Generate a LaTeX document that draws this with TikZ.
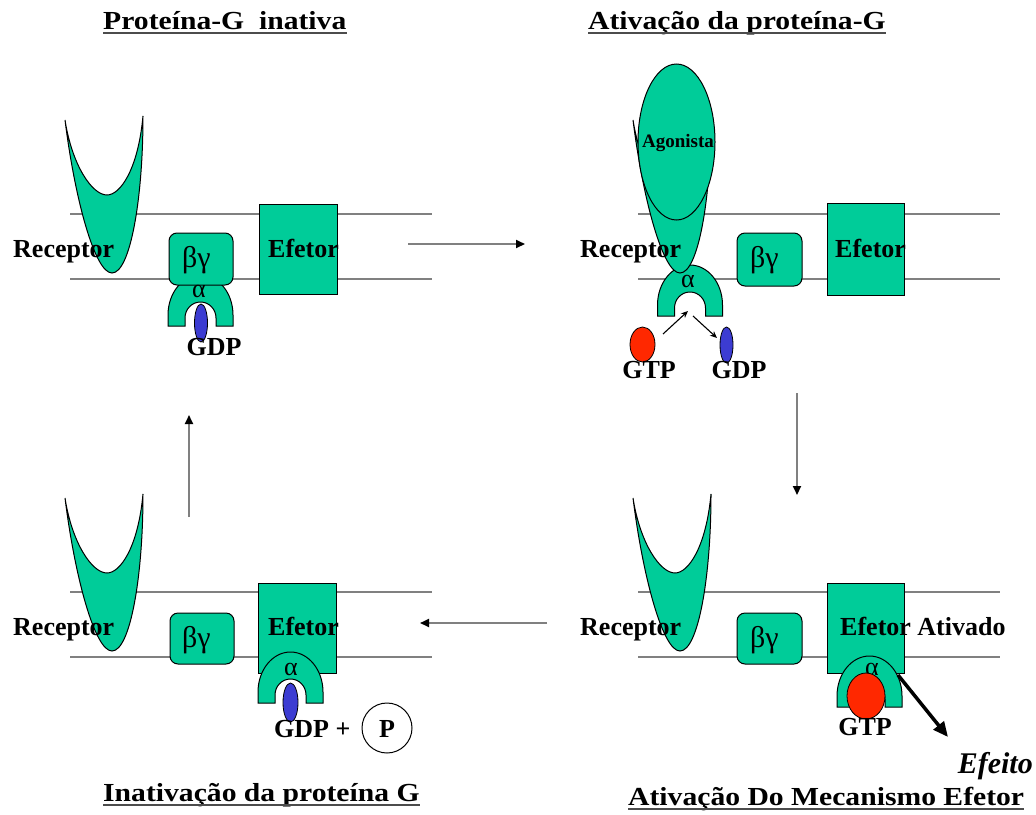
\documentclass[tikz,border=0pt]{standalone}
\usepackage{fontspec}
\setmainfont{Liberation Serif}
\newfontfamily\headfont[FakeStretch=1.14]{Liberation Serif}
\usetikzlibrary{arrows.meta,shapes.geometric}

\definecolor{prot}{RGB}{0,204,153}
\definecolor{gtpred}{RGB}{255,40,0}
\definecolor{gdpblue}{RGB}{60,60,210}
\definecolor{memgray}{RGB}{128,128,128}

\tikzset{
  protein/.style={fill=prot, draw=black, line width=1pt},
  memline/.style={draw=memgray, line width=2.5pt},
  bgbox/.style={protein, rectangle, rounded corners=8pt, minimum width=64pt, minimum height=52pt, inner sep=0pt},
  efbox/.style={protein, rectangle, minimum width=78pt, minimum height=90pt, inner sep=0pt},
  lbl/.style={inner sep=0pt, anchor=base west, font=\fontsize{26}{30}\selectfont\bfseries},
  clbl/.style={lbl, anchor=base},
  greek/.style={inner sep=0pt, anchor=base west, font=\fontsize{30}{32}\selectfont},
  alpha/.style={inner sep=0pt, anchor=base, font=\fontsize{26}{30}\selectfont},
  head/.style={inner sep=0pt, anchor=base west, font=\fontsize{26}{30}\selectfont\headfont\bfseries},
  uline/.style={draw=black!70, line width=1.6pt},
  gtp/.style={ellipse, fill=gtpred, draw=black, line width=0.8pt, inner sep=0pt},
  gdp/.style={ellipse, fill=gdpblue, draw=black, line width=0.8pt, inner sep=0pt},
  flow/.style={draw=memgray, line width=2pt, -{Triangle[length=9pt,width=8pt,black]}},
  swap/.style={draw=black, line width=1.1pt, -{Stealth[length=7pt,width=6pt]}},
  effect/.style={draw=black, line width=3.5pt, -{Triangle[length=15pt,width=13pt]}},
  receptor/.pic={
    \path[protein] (0,4) .. controls (10,84) and (30,157) .. (47,157)
      .. controls (65,157) and (78,84) .. (78,0)
      .. controls (73,54) and (55,79) .. (42,79)
      .. controls (27,79) and (7,49) .. (0,4) -- cycle;
  },
  galpha/.pic={
    \path[protein] (-32.5,0) -- (-32.5,-11)
      arc[start angle=180, end angle=360, x radius=32.5, y radius=40]
      -- (32.5,0) -- (15.5,0) -- (15.5,-8)
      arc[start angle=360, end angle=180, x radius=15.5, y radius=16]
      -- (-15.5,0) -- cycle;
  }
}

\begin{document}
\begin{tikzpicture}[x=1pt,y=-1pt]
\useasboundingbox (0,0) rectangle (1036,814);

% ---------- titles ----------
\node[head] (tTL) at (103,29) {Proteína-G~~inativa};
\node[head] (tTR) at (588,29) {Ativação da proteína-G};
\node[head] (tBL) at (103,801) {Inativação da proteína G};
\node[head] (tBR) at (628,805) {Ativação Do Mecanismo Efetor};
\foreach \t in {tTL,tTR,tBL,tBR}
  \draw[uline] ([yshift=-4pt]\t.base west) -- ([yshift=-4pt]\t.base east);

% ---------- inactive G protein (top left) ----------
\draw[memline] (70,214) -- (432,214);
\draw[memline] (70,279) -- (432,279);
\pic (recTL) at (65,116) {receptor};
\node[efbox] (efTL) at (298,249) {};
\pic (alTL) at (200.5,326) {galpha};
\node[bgbox] (bgTL) at (201,259) {};
\node[gdp, minimum width=13pt, minimum height=38pt] (gdpTL) at (201,323) {};
\node[lbl] (rxTL) at (13,257) {Receptor};
\node[lbl] (eftTL) at (268,257) {Efetor};
\node[greek] (bgtTL) at (182,267) {βγ};
\node[alpha] (atTL) at (199,297) {α};
\node[clbl] (gdptTL) at (214,355) {GDP};

% ---------- activation (top right) ----------
\draw[memline] (638,214) -- (1000,214);
\draw[memline] (638,279) -- (1000,279);
\pic (alTR) at (690,316) {galpha};
\pic (recTR) at (633,116) {receptor};
\node[protein, ellipse, minimum width=77pt, minimum height=156pt, inner sep=0pt] (ago) at (676.5,142) {};
\node[inner sep=0pt, anchor=base, font=\fontsize{19}{22}\selectfont\bfseries] (agot) at (678,147) {Agonista};
\node[bgbox, minimum width=65pt, minimum height=53pt] (bgTR) at (769.5,259.5) {};
\node[efbox, minimum width=77pt, minimum height=92pt] (efTR) at (865.5,249) {};
\node[lbl] (rxTR) at (580,257) {Receptor};
\node[lbl] (eftTR) at (835,257) {Efetor};
\node[greek] (bgtTR) at (750,267) {βγ};
\node[alpha] (atTR) at (688,287) {α};
\node[gtp, minimum width=25pt, minimum height=35pt] (gtpTR) at (642.5,344.5) {};
\node[gdp, minimum width=13pt, minimum height=36pt] (gdpTR) at (726.5,345) {};
\node[clbl] (gtptTR) at (649,378) {GTP};
\node[clbl] (gdptTR) at (739,378) {GDP};
\coordinate (inS) at (663,334);
\coordinate (inE) at (688,311);
\coordinate (outS) at (693,316);
\coordinate (outE) at (717,338);
\draw[swap] (inS) -- (inE);
\draw[swap] (outS) -- (outE);

% ---------- effector activation (bottom right) ----------
\draw[memline] (638,592) -- (1000,592);
\draw[memline] (638,657) -- (1000,657);
\pic (recBR) at (633,494) {receptor};
\node[bgbox, minimum width=65pt, minimum height=51pt] (bgBR) at (769.5,638.5) {};
\node[efbox, minimum width=77pt] (efBR) at (865.5,628) {};
\pic (alBR) at (869.5,707) {galpha};
\node[alpha] (atBR) at (872,675) {α};
\node[gtp, minimum width=38pt, minimum height=46pt] (gtpBR) at (866,696) {};
\node[clbl] (gtptBR) at (865,735) {GTP};
\node[lbl] (rxBR) at (580,635) {Receptor};
\node[lbl] (eftBR) at (840,635) {Efetor Ativado};
\node[greek] (bgtBR) at (750,647) {βγ};
\coordinate (effS) at (898,675);
\coordinate (effE) at (948,737);
\draw[effect] (effS) -- (effE);
\node[inner sep=0pt, anchor=base east, font=\fontsize{30}{34}\selectfont\bfseries\itshape] (efeito) at (1033,773) {Efeito};

% ---------- inactivation (bottom left) ----------
\draw[memline] (70,592) -- (432,592);
\draw[memline] (70,657) -- (432,657);
\pic (recBL) at (65,494) {receptor};
\node[bgbox, minimum height=51pt] (bgBL) at (202,638.5) {};
\node[efbox] (efBL) at (297.5,628) {};
\pic (alBL) at (290.5,703) {galpha};
\node[gdp, minimum width=15pt, minimum height=39pt] (gdpBL) at (290.5,702.5) {};
\node[lbl] (rxBL) at (13,635) {Receptor};
\node[lbl] (eftBL) at (268,635) {Efetor};
\node[greek] (bgtBL) at (182,647) {βγ};
\node[alpha] (atBL) at (291,675) {α};
\node[lbl] (gdptBL) at (274,737) {GDP +};
\node[circle, draw=black, line width=1pt, minimum size=50pt, inner sep=0pt] (pi) at (387,728) {};
\node[clbl] (pit) at (387,737) {P};

% ---------- cycle arrows ----------
\coordinate (c1s) at (408,244);
\coordinate (c1e) at (525,244);
\coordinate (c2s) at (797,393);
\coordinate (c2e) at (797,495);
\coordinate (c3s) at (547,623);
\coordinate (c3e) at (420,623);
\coordinate (c4s) at (189,517);
\coordinate (c4e) at (189,415);
\draw[flow] (c1s) -- (c1e);
\draw[flow] (c2s) -- (c2e);
\draw[flow] (c3s) -- (c3e);
\draw[flow] (c4s) -- (c4e);
\end{tikzpicture}
\end{document}
